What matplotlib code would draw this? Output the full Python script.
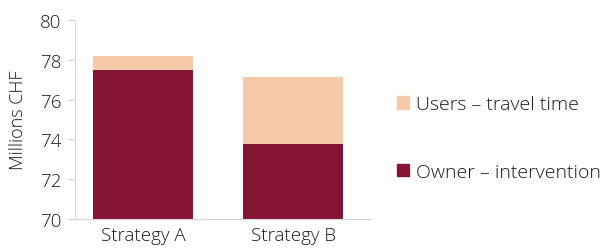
import matplotlib.pyplot as plt
from matplotlib.patches import Patch

plt.rcParams['font.family'] = ['Open Sans', 'DejaVu Sans']

strategies = ['Strategy A', 'Strategy B']
owner = [77.5, 73.75]
users = [0.7, 3.4]
base = 70

c_owner = '#861535'
c_users = '#F7C9A9'

fig = plt.figure(figsize=(6.11, 2.51), dpi=100)
ax = fig.add_axes([75 / 611, 1 - 220 / 251, 295 / 611, 199 / 251])

x = [0, 1]
owner_h = [o - base for o in owner]
ax.bar(x, owner_h, bottom=base, width=0.667, color=c_owner, linewidth=0)
ax.bar(x, users, bottom=owner, width=0.667, color=c_users, linewidth=0)

ax.set_ylim(70, 80)
ax.set_xlim(-0.453, 1.513)
ax.set_yticks([70, 72, 74, 76, 78, 80])
ax.set_xticks(x)
ax.set_xticklabels(strategies)
ax.tick_params(axis='y', labelsize=13.5, length=5, color='#ddd5d5', pad=5, labelcolor='#1a1a1a')
ax.tick_params(axis='x', labelsize=13.5, length=0, pad=5, labelcolor='#1a1a1a')
ax.set_ylabel('Millions CHF', fontsize=13, fontweight='light', color='#1a1a1a')
ax.yaxis.set_label_coords(-0.163, 0.5)

for lab in ax.get_xticklabels() + ax.get_yticklabels():
    lab.set_fontweight('light')

for s in ['top', 'right']:
    ax.spines[s].set_visible(False)
ax.spines['left'].set_color('#ddd5d5')
ax.spines['bottom'].set_color('#ddd5d5')

handles = [Patch(color=c_users, label='Users – travel time'),
           Patch(color=c_owner, label='Owner – intervention')]
leg = fig.legend(handles=handles, loc='center left', bbox_to_anchor=(397 / 611, 1 - 139 / 251),
                 frameon=False, prop={'size': 14, 'weight': 'light'},
                 handlelength=0.62, handleheight=0.62,
                 handletextpad=0.36, labelspacing=2.55, borderpad=0, borderaxespad=0)
for t in leg.get_texts():
    t.set_color('#1a1a1a')

fig.savefig('out.png', dpi=100)
